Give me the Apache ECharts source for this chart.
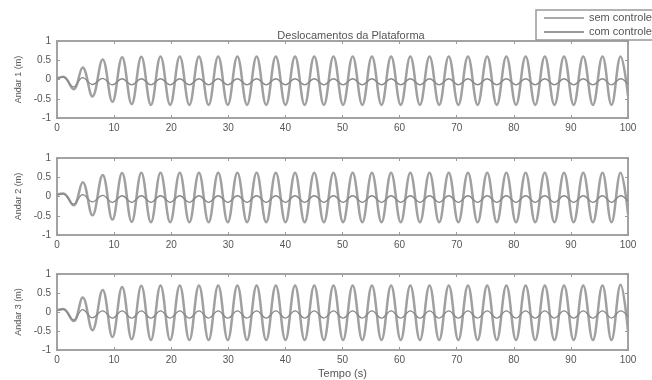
<!DOCTYPE html>
<html>
<head>
<meta charset="utf-8">
<script src="https://cdn.jsdelivr.net/npm/echarts@6/dist/echarts.min.js"></script>
<style>
  html, body { margin: 0; padding: 0; background: #fff; }
  #chart { width: 652px; height: 380px; }
</style>
</head>
<body>
<div id="chart"></div>
<script>
// turning points of the response (s)
var tempos = [0, 1.1, 2.9, 4.5, 6.2, 8.0, 9.7, 11.4,
  13.08, 14.77, 16.45, 18.13, 19.82, 21.5, 23.18, 24.86, 26.55, 28.23,
  29.91, 31.59, 33.28, 34.96, 36.64, 38.32, 40.01, 41.69, 43.37, 45.05,
  46.74, 48.42, 50.1, 51.78, 53.47, 55.15, 56.83, 58.51, 60.2, 61.88,
  63.56, 65.24, 66.93, 68.61, 70.29, 71.97, 73.66, 75.34, 77.02, 78.7,
  80.39, 82.07, 83.75, 85.43, 87.12, 88.8, 90.48, 92.16, 93.85, 95.53,
  97.11, 98.7, 100];

// sem controle, andar 1..3
var semAndar1 = [0.03, 0.07, -0.25, 0.31, -0.44, 0.52, -0.58, 0.58,
  -0.64, 0.59, -0.66, 0.6, -0.66, 0.6, -0.66, 0.6, -0.66, 0.6,
  -0.66, 0.6, -0.66, 0.6, -0.66, 0.6, -0.66, 0.6, -0.66, 0.6,
  -0.66, 0.6, -0.66, 0.6, -0.66, 0.6, -0.66, 0.6, -0.66, 0.6,
  -0.66, 0.6, -0.66, 0.6, -0.66, 0.6, -0.66, 0.6, -0.66, 0.6,
  -0.66, 0.6, -0.66, 0.6, -0.66, 0.6, -0.66, 0.6, -0.66, 0.6,
  -0.66, 0.6, -0.42];
var semAndar2 = [0.05, 0.08, -0.23, 0.37, -0.49, 0.56, -0.6, 0.61,
  -0.66, 0.62, -0.67, 0.62, -0.67, 0.62, -0.67, 0.62, -0.67, 0.62,
  -0.67, 0.62, -0.67, 0.62, -0.67, 0.62, -0.67, 0.62, -0.67, 0.62,
  -0.67, 0.62, -0.67, 0.62, -0.67, 0.62, -0.67, 0.62, -0.67, 0.62,
  -0.67, 0.62, -0.67, 0.62, -0.67, 0.62, -0.67, 0.62, -0.67, 0.62,
  -0.67, 0.62, -0.67, 0.62, -0.67, 0.62, -0.67, 0.62, -0.67, 0.62,
  -0.67, 0.62, -0.45];
var semAndar3 = [0.05, 0.08, -0.24, 0.38, -0.48, 0.58, -0.66, 0.66,
  -0.72, 0.69, -0.74, 0.7, -0.74, 0.7, -0.74, 0.7, -0.74, 0.7,
  -0.74, 0.7, -0.74, 0.7, -0.74, 0.7, -0.74, 0.7, -0.74, 0.7,
  -0.74, 0.7, -0.74, 0.7, -0.74, 0.7, -0.74, 0.7, -0.74, 0.7,
  -0.74, 0.7, -0.74, 0.7, -0.74, 0.7, -0.74, 0.7, -0.74, 0.7,
  -0.74, 0.7, -0.74, 0.7, -0.74, 0.7, -0.74, 0.7, -0.74, 0.7,
  -0.74, 0.72, -0.5];

// com controle, andar 1..3
var comAndar1 = [0.03, 0.06, -0.19, 0.05, -0.13, 0.03, -0.14, 0.02,
  -0.14, 0.02, -0.14, 0.02, -0.14, 0.02, -0.14, 0.02, -0.14, 0.02,
  -0.14, 0.02, -0.14, 0.02, -0.14, 0.02, -0.14, 0.02, -0.14, 0.02,
  -0.14, 0.02, -0.14, 0.02, -0.14, 0.02, -0.14, 0.02, -0.14, 0.02,
  -0.14, 0.02, -0.14, 0.02, -0.14, 0.02, -0.14, 0.02, -0.14, 0.02,
  -0.14, 0.02, -0.14, 0.02, -0.14, 0.02, -0.14, 0.02, -0.14, 0.02,
  -0.14, 0.02, -0.12];
var comAndar2 = [0.04, 0.07, -0.2, 0.05, -0.14, 0.03, -0.15, 0.02,
  -0.15, 0.02, -0.15, 0.02, -0.15, 0.02, -0.15, 0.02, -0.15, 0.02,
  -0.15, 0.02, -0.15, 0.02, -0.15, 0.02, -0.15, 0.02, -0.15, 0.02,
  -0.15, 0.02, -0.15, 0.02, -0.15, 0.02, -0.15, 0.02, -0.15, 0.02,
  -0.15, 0.02, -0.15, 0.02, -0.15, 0.02, -0.15, 0.02, -0.15, 0.02,
  -0.15, 0.02, -0.15, 0.02, -0.15, 0.02, -0.15, 0.02, -0.15, 0.02,
  -0.15, 0.02, -0.12];
var comAndar3 = [0.04, 0.07, -0.21, 0.06, -0.15, 0.03, -0.16, 0.03,
  -0.16, 0.03, -0.16, 0.03, -0.16, 0.03, -0.16, 0.03, -0.16, 0.03,
  -0.16, 0.03, -0.16, 0.03, -0.16, 0.03, -0.16, 0.03, -0.16, 0.03,
  -0.16, 0.03, -0.16, 0.03, -0.16, 0.03, -0.16, 0.03, -0.16, 0.03,
  -0.16, 0.03, -0.16, 0.03, -0.16, 0.03, -0.16, 0.03, -0.16, 0.03,
  -0.16, 0.03, -0.16, 0.03, -0.16, 0.03, -0.16, 0.03, -0.16, 0.03,
  -0.16, 0.03, -0.12];

var andares = ['Andar 1 (m)', 'Andar 2 (m)', 'Andar 3 (m)'];
var legendas = ['sem controle', 'com controle'];

var myChart = echarts.init(document.getElementById('chart'));
var fonte = 'Liberation Sans, Arial, sans-serif';
var tops = [41, 158, 274];
var sem = [semAndar1, semAndar2, semAndar3];
var com = [comAndar1, comAndar2, comAndar3];

function pares(vals) {
  return tempos.map(function (t, i) { return [t, vals[i]]; });
}

var tick = { inside: true, length: 3, lineStyle: { color: '#999' } };
var grids = [], xAxes = [], yAxes = [], series = [];
tops.forEach(function (top, i) {
  grids.push({
    left: 57, right: 24, top: top, height: 77,
    show: true, borderColor: '#a3a3a3', borderWidth: 2
  });
  xAxes.push({
    gridIndex: i, type: 'value', min: 0, max: 100, interval: 10,
    axisLine: { show: false, onZero: false },
    axisTick: tick,
    axisLabel: { fontSize: 10, color: '#555', margin: 5, fontFamily: fonte },
    splitLine: { show: false },
    name: i === 2 ? 'Tempo (s)' : '',
    nameLocation: 'middle', nameGap: 18,
    nameTextStyle: { fontSize: 11, color: '#555', fontFamily: fonte }
  });
  yAxes.push({
    gridIndex: i, type: 'value', min: -1, max: 1, interval: 0.5,
    axisLine: { show: false, onZero: false },
    axisTick: tick,
    axisLabel: { fontSize: 10, color: '#555', margin: 6, fontFamily: fonte },
    splitLine: { show: false },
    name: andares[i], nameLocation: 'middle', nameRotate: 90, nameGap: 31,
    nameTextStyle: { fontSize: 9, color: '#555', fontFamily: fonte }
  });
});
// top / right ticks (matlab box)
tops.forEach(function (top, i) {
  xAxes.push({
    gridIndex: i, type: 'value', position: 'top', min: 0, max: 100, interval: 10,
    axisLine: { show: false, onZero: false }, axisLabel: { show: false },
    splitLine: { show: false }, axisTick: tick
  });
  yAxes.push({
    gridIndex: i, type: 'value', position: 'right', min: -1, max: 1, interval: 0.5,
    axisLine: { show: false, onZero: false }, axisLabel: { show: false },
    splitLine: { show: false }, axisTick: tick
  });
});

tops.forEach(function (top, i) {
  series.push({
    name: legendas[0], type: 'line', xAxisIndex: i, yAxisIndex: i,
    data: pares(sem[i]), smooth: 0.4, symbol: 'none',
    lineStyle: { color: '#a0a0a0', width: 2.5 }, itemStyle: { color: '#a0a0a0' }
  });
  series.push({
    name: legendas[1], type: 'line', xAxisIndex: i, yAxisIndex: i,
    data: pares(com[i]), smooth: 0.4, symbol: 'none',
    lineStyle: { color: '#888', width: 1.3 }, itemStyle: { color: '#888' }
  });
});

var option = {
  backgroundColor: '#fff',
  animation: false,
  title: {
    text: 'Deslocamentos da Plataforma',
    left: 346, top: 25, textAlign: 'center',
    textStyle: { fontSize: 11, fontWeight: 'normal', color: '#555', fontFamily: fonte }
  },
  legend: {
    data: [
      { name: legendas[0], icon: 'rect', itemStyle: { color: '#aaa' } },
      { name: legendas[1], icon: 'rect', itemStyle: { color: '#999' } }
    ],
    orient: 'vertical', left: 536, top: 10,
    padding: [2, 6, 2, 8], itemGap: 2, itemWidth: 40, itemHeight: 2,
    borderColor: '#999', borderWidth: 1.5,
    textStyle: { fontSize: 11, lineHeight: 12, color: '#555', fontFamily: fonte }
  },
  grid: grids,
  xAxis: xAxes,
  yAxis: yAxes,
  series: series
};
myChart.setOption(option);
</script>
</body>
</html>
